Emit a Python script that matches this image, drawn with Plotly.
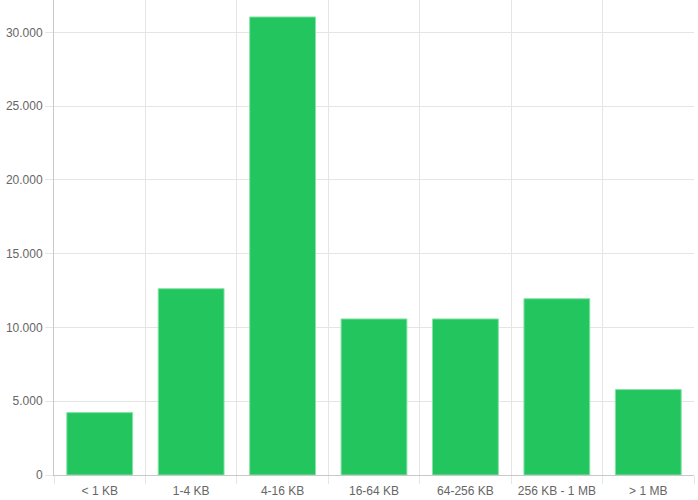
import plotly.graph_objects as go

GREEN = "#22C55E"
GRID = "#E5E5E5"
AXIS = "#C8C8C8"
TXT = "#666666"

size_buckets = ["< 1 KB", "1-4 KB", "4-16 KB", "16-64 KB", "64-256 KB", "256 KB - 1 MB", "> 1 MB"]
file_counts = [4230, 12630, 31050, 10580, 10580, 11950, 5790]

y_ticks = [0, 5000, 10000, 15000, 20000, 25000, 30000]

fig = go.Figure(go.Bar(
    x=size_buckets,
    y=file_counts,
    marker=dict(color=GREEN, line=dict(color="#86E3A8", width=1)),
    hoverinfo="x+y",
))

fig.update_layout(
    width=698, height=500,
    margin=dict(l=54, r=4, t=0, b=24.5, pad=0),
    paper_bgcolor="white",
    plot_bgcolor="white",
    bargap=0.28,
    separators=",.",
    showlegend=False,
    font=dict(family="Liberation Sans, Arial, sans-serif", size=12, color=TXT),
    xaxis=dict(
        type="category",
        range=[-0.5, 6.5],
        tickson="boundaries",
        automargin=False,
        showgrid=True, gridcolor=GRID, gridwidth=1,
        ticks="outside", ticklen=8, tickcolor=GRID,
        ticklabelstandoff=5,
        showline=True, linecolor=AXIS, linewidth=1,
        zeroline=False,
    ),
    yaxis=dict(
        range=[0, 32200],
        tickvals=y_ticks,
        tickformat=",d",
        automargin=False,
        showgrid=True, gridcolor=GRID, gridwidth=1,
        ticks="outside", ticklen=8, tickcolor=GRID,
        showline=True, linecolor=AXIS, linewidth=1,
        zeroline=False,
    ),
)

# drop the default page margin so the chart sits at the window's top-left
fig.write_html(
    "out.html",
    config={"displayModeBar": False},
    post_script="document.body.style.margin='0';document.body.style.overflow='hidden';",
)
